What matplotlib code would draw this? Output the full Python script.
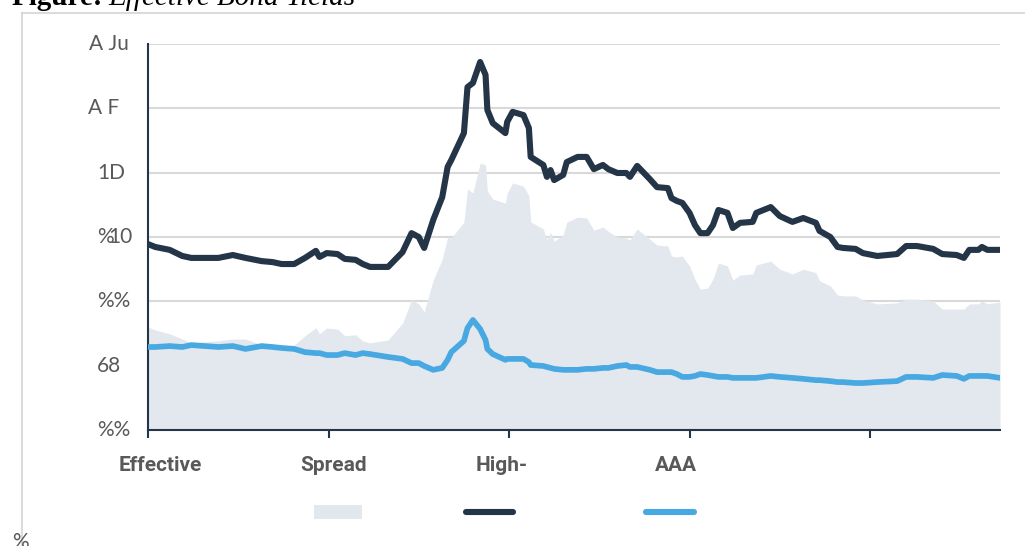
import matplotlib
matplotlib.use("Agg")
import matplotlib.pyplot as plt
from matplotlib.lines import Line2D
from matplotlib.patches import Rectangle
from matplotlib.transforms import blended_transform_factory
import numpy as np

# time in years from the start of the window
t = [0.00, 0.04, 0.12, 0.19, 0.24, 0.39, 0.47, 0.54, 0.63, 0.69,
     0.74, 0.81, 0.87, 0.93, 0.95, 0.99, 1.05, 1.09, 1.15, 1.19,
     1.23, 1.33, 1.41, 1.46, 1.50, 1.53, 1.58, 1.63, 1.66, 1.68,
     1.75, 1.77, 1.80, 1.84, 1.87, 1.88, 1.91, 1.98, 1.99, 2.02,
     2.08, 2.11, 2.12, 2.19, 2.21, 2.23, 2.25, 2.30, 2.32, 2.38,
     2.43, 2.47, 2.52, 2.55, 2.60, 2.65, 2.67, 2.71, 2.78, 2.82,
     2.88, 2.90, 2.93, 2.96, 3.00, 3.03, 3.06, 3.10, 3.13, 3.16,
     3.21, 3.24, 3.28, 3.35, 3.37, 3.41, 3.45, 3.50, 3.57, 3.63,
     3.70, 3.72, 3.78, 3.82, 3.85, 3.92, 3.96, 4.04, 4.15, 4.20,
     4.26, 4.35, 4.40, 4.48, 4.52, 4.55, 4.60, 4.62, 4.65, 4.72]

# high-yield effective yield (%)
high_yield = [5.78, 5.69, 5.60, 5.41, 5.35, 5.35, 5.44, 5.35, 5.25, 5.22,
              5.16, 5.16, 5.35, 5.57, 5.38, 5.50, 5.47, 5.32, 5.29, 5.16,
              5.07, 5.07, 5.53, 6.12, 6.00, 5.66, 6.53, 7.24, 8.18, 8.39,
              9.23, 10.66, 10.79, 11.44, 11.04, 9.95, 9.54, 9.23, 9.58, 9.89,
              9.79, 9.39, 8.49, 8.24, 7.87, 8.08, 7.77, 7.93, 8.33, 8.49,
              8.49, 8.11, 8.24, 8.11, 7.99, 7.99, 7.87, 8.21, 7.80, 7.55,
              7.52, 7.21, 7.12, 7.06, 6.75, 6.37, 6.12, 6.12, 6.37, 6.84,
              6.75, 6.28, 6.44, 6.47, 6.75, 6.84, 6.93, 6.65, 6.47, 6.59,
              6.44, 6.19, 6.00, 5.69, 5.66, 5.63, 5.50, 5.41, 5.47, 5.72,
              5.72, 5.63, 5.47, 5.44, 5.35, 5.60, 5.60, 5.69, 5.60, 5.60]

# AAA effective yield (%)
aaa = [2.58, 2.58, 2.61, 2.58, 2.64, 2.58, 2.61, 2.52, 2.61, 2.58,
       2.55, 2.52, 2.42, 2.39, 2.39, 2.33, 2.33, 2.39, 2.33, 2.39,
       2.36, 2.27, 2.21, 2.08, 2.08, 1.99, 1.87, 1.93, 2.18, 2.42,
       2.77, 3.17, 3.42, 3.14, 2.80, 2.52, 2.36, 2.18, 2.21, 2.21,
       2.21, 2.11, 2.02, 1.99, 1.96, 1.93, 1.90, 1.87, 1.87, 1.87,
       1.90, 1.90, 1.93, 1.93, 1.99, 2.02, 1.96, 1.96, 1.87, 1.80,
       1.80, 1.80, 1.74, 1.65, 1.65, 1.68, 1.74, 1.71, 1.68, 1.65,
       1.65, 1.62, 1.62, 1.62, 1.62, 1.65, 1.68, 1.65, 1.62, 1.59,
       1.55, 1.55, 1.52, 1.49, 1.49, 1.46, 1.46, 1.49, 1.52, 1.65,
       1.65, 1.62, 1.71, 1.68, 1.59, 1.68, 1.68, 1.68, 1.68, 1.62]

y_ticks = [0, 2, 4, 6, 8, 10, 12]
y_tick_labels = ["%%", "68", "%%", "%10", "1D", "A F", "A Ju"]
x_ticks = [0, 1, 2, 3, 4]
x_labels = ["Effective", "Spread", "High-", "AAA"]

DARK = "#243548"
BLUE = "#48a8e2"
AREA = "#e3e7ee"
GRID = "#d9d9d9"
LABEL = "#595959"

W, H = 1025, 546
fig = plt.figure(figsize=(W / 100, H / 100), dpi=100)


def fx(px):
    return px / W


def fy(py):
    return 1 - py / H


# outer frame (top and left edges)
fig.add_artist(Line2D([fx(22), 1.0], [fy(13), fy(13)], color="#d4d4d4", lw=1.2))
fig.add_artist(Line2D([fx(22), fx(22)], [fy(13), 0.0], color="#d4d4d4", lw=1.2))

# title, running off the top edge
fig.text(fx(12), fy(5), "Figure:", family="Liberation Serif", fontweight="bold",
         fontsize=21, color="black", va="baseline", ha="left")
fig.text(fx(108), fy(5), "Effective Bond Yields", family="Liberation Serif",
         style="italic", fontsize=21, color="black", va="baseline", ha="left")

ax = fig.add_axes([fx(148), 1 - 430 / H, (1000 - 148) / W, (430 - 44) / H])

spread = np.array(high_yield) - np.array(aaa)
ax.fill_between(t, 0, spread, color=AREA, lw=0, zorder=2)
ax.plot(t, high_yield, color=DARK, lw=4.4, solid_joinstyle="round",
        solid_capstyle="round", zorder=4)
ax.plot(t, aaa, color=BLUE, lw=4.1, solid_joinstyle="round",
        solid_capstyle="round", zorder=3)

ax.set_xlim(0, 4.72)
ax.set_ylim(0, 12)
ax.set_yticks(y_ticks)
ax.set_yticklabels([])
ax.tick_params(axis="y", length=0)
ax.set_xticks(x_ticks)
ax.set_xticklabels([])
ax.tick_params(axis="x", length=6, width=1.5, color=DARK, direction="out")
ax.grid(axis="y", color=GRID, lw=1.5, zorder=0)
ax.set_axisbelow(True)
for side in ("top", "right"):
    ax.spines[side].set_visible(False)
for side in ("left", "bottom"):
    ax.spines[side].set_color(DARK)
    ax.spines[side].set_linewidth(1.5)

# y labels, each placed at its own left edge
trans = blended_transform_factory(fig.transFigure, ax.transData)
label_left = [97, 97, 97, 97, 97, 88, 89]
for y, lab, left in zip(y_ticks, y_tick_labels, label_left):
    if lab == "%10":
        ax.text(fx(left), y, "%", transform=trans, ha="left", va="center",
                fontsize=15, color=LABEL, family="Lato")
        ax.text(fx(left + 11), y, "10", transform=trans, ha="left", va="center",
                fontsize=15, color=LABEL, family="Lato")
    else:
        ax.text(fx(left), y, lab, transform=trans, ha="left", va="center",
                fontsize=15, color=LABEL, family="Lato")

# category labels under the axis
for lab, cx in zip(x_labels, [160, 334, 502, 676]):
    fig.text(fx(cx), fy(471), lab, ha="center", va="baseline", fontsize=15,
             fontweight="bold", color=LABEL, family=["Roboto", "DejaVu Sans"])

# legend keys
fig.add_artist(Rectangle((fx(314), fy(519)), fx(362) - fx(314), fy(505) - fy(519),
                         facecolor=AREA, edgecolor="none"))
fig.add_artist(Line2D([fx(466), fx(513)], [fy(512), fy(512)], color=DARK,
                      lw=4.4, solid_capstyle="round"))
fig.add_artist(Line2D([fx(646), fx(694)], [fy(512), fy(512)], color=BLUE,
                      lw=4.4, solid_capstyle="round"))

fig.text(fx(12), fy(548), "%", ha="left", va="baseline", fontsize=15,
         color=LABEL, family="Lato")

fig.savefig("out.png", dpi=100)
